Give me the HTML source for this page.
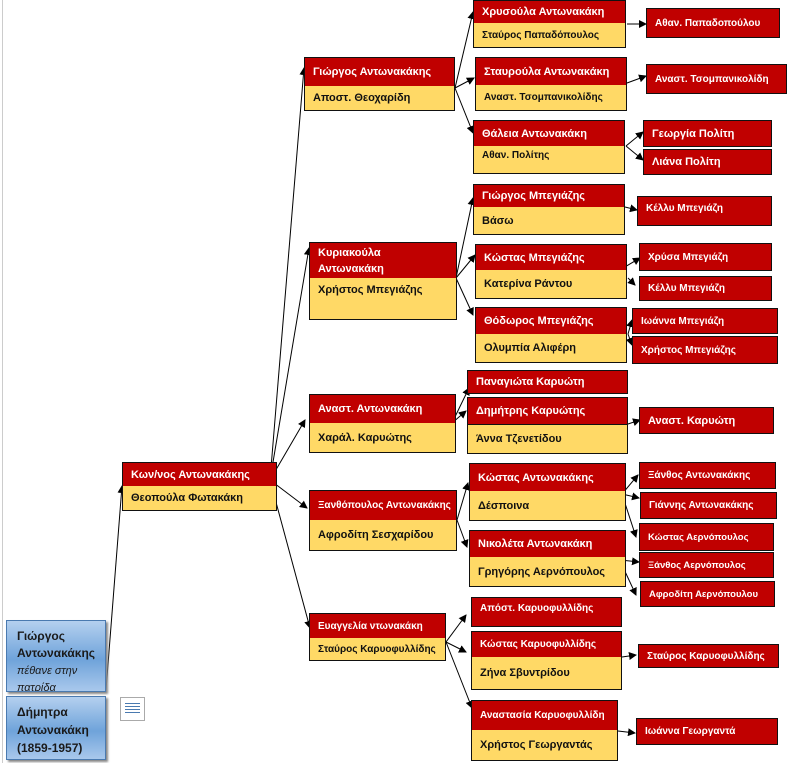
<!DOCTYPE html>
<html><head><meta charset="utf-8"><style>
body{margin:0;width:787px;height:763px;background:#fff;position:relative;overflow:hidden;font-family:"Liberation Sans","DejaVu Sans",sans-serif;font-weight:bold}
.r,.y{position:absolute;box-sizing:border-box;border:1.5px solid #111;padding-left:8px;font-size:11px;display:flex;align-items:center}
.r{background:#c00000;color:#fff}
.y{background:#ffd966;color:#111;border-top:none}
.b{position:absolute;box-sizing:border-box;border:1px solid #4a7ab0;background:linear-gradient(#b4d0ef,#6fa3da 55%,#a9c8ec);color:#1a1a1a;font-size:12px;padding:6px 0 0 10px;line-height:17px;box-shadow:2px 2px 2px #888;overflow:hidden}
svg{position:absolute;left:0;top:0}
</style></head><body>
<div style="position:absolute;left:2px;top:0;width:1px;height:763px;background:#ccc"></div>
<svg width="787" height="763"><defs><marker id="a" markerWidth="8" markerHeight="8" refX="7" refY="4" orient="auto" markerUnits="userSpaceOnUse"><path d="M0,0 L8,4 L0,8z" fill="#000"/></marker></defs>
<g stroke="#000" stroke-width="1" fill="none" marker-end="url(#a)">
<line x1="106" y1="690" x2="122" y2="486"/>
<line x1="270" y1="480" x2="304" y2="68"/>
<line x1="270" y1="480" x2="309" y2="248"/>
<line x1="270" y1="480" x2="305" y2="420"/>
<line x1="270" y1="480" x2="307" y2="508"/>
<line x1="270" y1="480" x2="310" y2="628"/>
<line x1="455" y1="88" x2="473" y2="12"/>
<line x1="455" y1="88" x2="474" y2="78"/>
<line x1="455" y1="88" x2="473" y2="133"/>
<line x1="627" y1="24" x2="646" y2="24"/>
<line x1="627" y1="83" x2="646" y2="76"/>
<line x1="626" y1="146" x2="643" y2="132"/>
<line x1="626" y1="146" x2="643" y2="160"/>
<line x1="456" y1="278" x2="473" y2="198"/>
<line x1="456" y1="278" x2="475" y2="255"/>
<line x1="456" y1="278" x2="473" y2="315"/>
<line x1="625" y1="207" x2="637" y2="210"/>
<line x1="618" y1="271" x2="640" y2="258"/>
<line x1="628" y1="278" x2="635" y2="285"/>
<line x1="628" y1="334" x2="632" y2="320"/>
<line x1="628" y1="334" x2="632" y2="345"/>
<line x1="452" y1="423" x2="469" y2="388"/>
<line x1="452" y1="423" x2="466" y2="411"/>
<line x1="628" y1="424" x2="640" y2="420"/>
<line x1="457" y1="520" x2="468" y2="483"/>
<line x1="457" y1="520" x2="467" y2="547"/>
<line x1="622" y1="494" x2="638" y2="475"/>
<line x1="622" y1="494" x2="639" y2="498"/>
<line x1="622" y1="494" x2="636" y2="537"/>
<line x1="620" y1="560" x2="639" y2="562"/>
<line x1="622" y1="565" x2="636" y2="595"/>
<line x1="446" y1="642" x2="466" y2="615"/>
<line x1="446" y1="642" x2="466" y2="652"/>
<line x1="446" y1="642" x2="472" y2="708"/>
<line x1="622" y1="657" x2="636" y2="655"/>
<line x1="618" y1="731" x2="635" y2="733"/>
</g></svg>

<div class="b" style="left:6px;top:620px;width:100px;height:72px;padding-top:7px">Γιώργος<br>Αντωνακάκης<br><i style="font-weight:normal;font-size:11px;line-height:14px">πέθανε στην<br>πατρίδα</i></div>
<div class="b" style="left:6px;top:696px;width:100px;height:64px;padding-top:6px;line-height:18px">Δήμητρα<br>Αντωνακάκη<br>(1859-1957)</div>
<div style="position:absolute;left:120px;top:697px;width:25px;height:24px;border:1px solid #aaa;box-sizing:border-box;background:#fff"><div style="margin:5px 4px;height:12px;background:repeating-linear-gradient(#4a7ab0 0 1px,#fff 1px 3px)"></div></div>

<div class="r" style="left:122px;top:462px;width:155px;height:25px">Κων/νος Αντωνακάκης</div>
<div class="y" style="left:122px;top:486px;width:155px;height:25px">Θεοπούλα Φωτακάκη</div>

<div class="r" style="left:304px;top:57px;width:151px;height:30px">Γιώργος Αντωνακάκης</div>
<div class="y" style="left:304px;top:86px;width:151px;height:25px">Αποστ. Θεοχαρίδη</div>
<div class="r" style="left:309px;top:242px;width:148px;height:37px;line-height:16px">Κυριακούλα<br>Αντωνακάκη</div>
<div class="y" style="left:309px;top:278px;width:148px;height:42px;align-items:flex-start;padding-top:6px">Χρήστος Μπεγιάζης</div>
<div class="r" style="left:309px;top:394px;width:147px;height:30px">Αναστ. Αντωνακάκη</div>
<div class="y" style="left:309px;top:423px;width:147px;height:30px">Χαράλ. Καρυώτης</div>
<div class="r" style="left:309px;top:490px;width:148px;height:31px;font-size:10px">Ξανθόπουλος Αντωνακάκης</div>
<div class="y" style="left:309px;top:520px;width:148px;height:31px">Αφροδίτη Σεσχαρίδου</div>
<div class="r" style="left:309px;top:613px;width:137px;height:26px;font-size:10px">Ευαγγελία ντωνακάκη</div>
<div class="y" style="left:309px;top:638px;width:137px;height:23px;font-size:10px">Σταύρος Καρυοφυλλίδης</div>

<div class="r" style="left:473px;top:0;width:153px;height:24px">Χρυσούλα Αντωνακάκη</div>
<div class="y" style="left:473px;top:23px;width:153px;height:25px;font-size:10px">Σταύρος Παπαδόπουλος</div>
<div class="r" style="left:475px;top:57px;width:152px;height:29px">Σταυρούλα Αντωνακάκη</div>
<div class="y" style="left:475px;top:85px;width:152px;height:26px;font-size:10px">Αναστ. Τσομπανικολίδης</div>
<div class="r" style="left:473px;top:120px;width:152px;height:27px">Θάλεια Αντωνακάκη</div>
<div class="y" style="left:473px;top:146px;width:152px;height:28px;font-size:10px;align-items:flex-start;padding-top:4px">Αθαν. Πολίτης</div>
<div class="r" style="left:473px;top:184px;width:152px;height:24px">Γιώργος Μπεγιάζης</div>
<div class="y" style="left:473px;top:207px;width:152px;height:28px">Βάσω</div>
<div class="r" style="left:475px;top:244px;width:152px;height:27px">Κώστας Μπεγιάζης</div>
<div class="y" style="left:475px;top:270px;width:152px;height:29px">Κατερίνα Ράντου</div>
<div class="r" style="left:475px;top:307px;width:152px;height:28px">Θόδωρος Μπεγιάζης</div>
<div class="y" style="left:475px;top:334px;width:152px;height:29px">Ολυμπία Αλιφέρη</div>
<div class="r" style="left:467px;top:370px;width:161px;height:24px">Παναγιώτα Καρυώτη</div>
<div class="r" style="left:467px;top:397px;width:161px;height:28px">Δημήτρης Καρυώτης</div>
<div class="y" style="left:467px;top:424px;width:161px;height:30px;border-top:1.5px solid #111">Άννα Τζενετίδου</div>
<div class="r" style="left:469px;top:463px;width:157px;height:29px">Κώστας Αντωνακάκης</div>
<div class="y" style="left:469px;top:491px;width:157px;height:30px">Δέσποινα</div>
<div class="r" style="left:469px;top:530px;width:157px;height:28px">Νικολέτα Αντωνακάκη</div>
<div class="y" style="left:469px;top:557px;width:157px;height:30px">Γρηγόρης Αερνόπουλος</div>
<div class="r" style="left:471px;top:597px;width:151px;height:30px;font-size:10px;align-items:flex-start;padding-top:5px">Απόστ. Καρυοφυλλίδης</div>
<div class="r" style="left:471px;top:631px;width:151px;height:27px;font-size:10px">Κώστας Καρυοφυλλίδης</div>
<div class="y" style="left:471px;top:657px;width:151px;height:33px">Ζήνα Σβυντρίδου</div>
<div class="r" style="left:471px;top:700px;width:147px;height:31px;font-size:10px">Αναστασία Καρυοφυλλίδη</div>
<div class="y" style="left:471px;top:730px;width:147px;height:31px">Χρήστος Γεωργαντάς</div>

<div class="r" style="left:646px;top:8px;width:134px;height:30px;font-size:10px">Αθαν. Παπαδοπούλου</div>
<div class="r" style="left:646px;top:64px;width:141px;height:30px;font-size:10px">Αναστ. Τσομπανικολίδη</div>
<div class="r" style="left:643px;top:120px;width:129px;height:27px">Γεωργία Πολίτη</div>
<div class="r" style="left:643px;top:149px;width:129px;height:26px">Λιάνα Πολίτη</div>
<div class="r" style="left:637px;top:196px;width:135px;height:30px;font-size:10px;align-items:flex-start;padding-top:6px">Κέλλυ Μπεγιάζη</div>
<div class="r" style="left:639px;top:243px;width:133px;height:28px;font-size:10px">Χρύσα Μπεγιάζη</div>
<div class="r" style="left:639px;top:276px;width:133px;height:25px;font-size:10px">Κέλλυ Μπεγιάζη</div>
<div class="r" style="left:632px;top:308px;width:146px;height:26px;font-size:10px">Ιωάννα Μπεγιάζη</div>
<div class="r" style="left:632px;top:336px;width:146px;height:28px;font-size:10px">Χρήστος Μπεγιάζης</div>
<div class="r" style="left:639px;top:407px;width:135px;height:27px">Αναστ. Καρυώτη</div>
<div class="r" style="left:639px;top:462px;width:137px;height:27px;font-size:10px">Ξάνθος Αντωνακάκης</div>
<div class="r" style="left:640px;top:492px;width:137px;height:27px;font-size:10px">Γιάννης Αντωνακάκης</div>
<div class="r" style="left:639px;top:523px;width:135px;height:28px;font-size:9.5px">Κώστας Αερνόπουλος</div>
<div class="r" style="left:639px;top:552px;width:135px;height:26px;font-size:9.5px">Ξάνθος Αερνόπουλος</div>
<div class="r" style="left:640px;top:581px;width:135px;height:26px;font-size:9.5px">Αφροδίτη Αερνόπουλου</div>
<div class="r" style="left:638px;top:644px;width:141px;height:24px;font-size:10px">Σταύρος Καρυοφυλλίδης</div>
<div class="r" style="left:636px;top:718px;width:142px;height:27px;font-size:10px">Ιωάννα Γεωργαντά</div>
</body></html>
